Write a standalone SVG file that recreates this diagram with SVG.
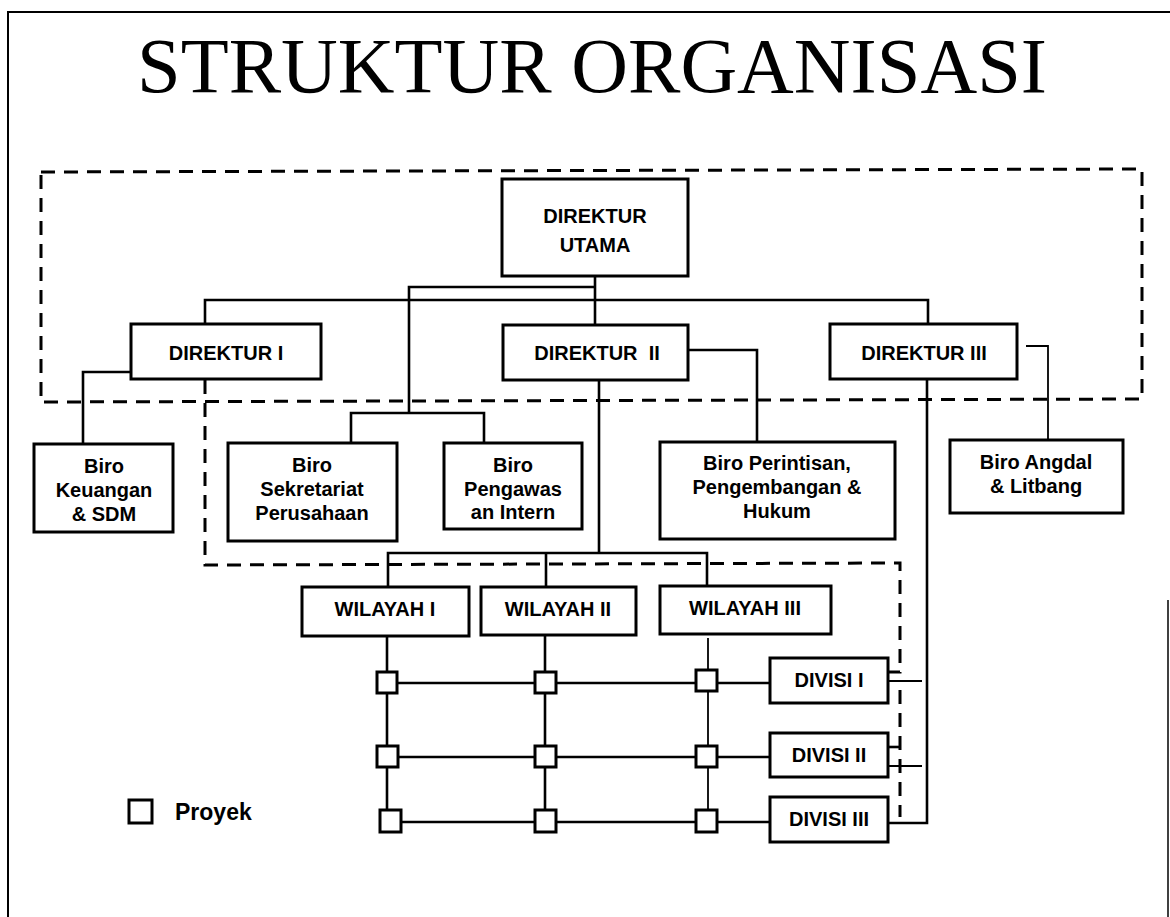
<svg xmlns="http://www.w3.org/2000/svg" width="1170" height="917" viewBox="0 0 1170 917">
<style>
.box{fill:#fff;stroke:#000;stroke-width:3}
.lbl{font-family:"Liberation Sans",Arial,sans-serif;font-weight:bold;font-size:20px;text-anchor:middle;fill:#000}
.ln{fill:none;stroke:#000;stroke-width:2.6}
.thin{fill:none;stroke:#000;stroke-width:1.8}
.dash{fill:none;stroke:#000;stroke-width:3;stroke-dasharray:14 9}
.sq{fill:#fff;stroke:#000;stroke-width:3}
</style>
<rect width="1170" height="917" fill="#fff"/>
<g id="frame">
<path d="M8,917 L8,12 L1170,12" fill="none" stroke="#000" stroke-width="2"/>
<path d="M1168,600 L1168,917" fill="none" stroke="#000" stroke-width="1.5"/>
</g>
<text id="title" x="137" y="92" font-family="'Liberation Serif','Times New Roman',serif" font-size="79" textLength="910" lengthAdjust="spacingAndGlyphs" fill="#000">STRUKTUR ORGANISASI</text>
<g id="regions">
<path class="dash" d="M41,172 L1142,169 L1142,399 L41,402 Z"/>
<path class="dash" d="M205,380 L205,565 L900,563 L900,672 L888,672"/>
<path class="dash" d="M900,690 L900,817"/>
<path class="ln" d="M888,747 L900,747"/>
</g>
<g id="connectors">
<path class="ln" d="M595,276 L595,325"/>
<path class="ln" d="M595,287 L409,287 L409,413"/>
<path class="ln" d="M205,324 L205,300 L928,300 L928,324"/>
<path class="ln" d="M351,443 L351,413 L484,413 L484,443"/>
<path class="ln" d="M131,372 L83,372 L83,444"/>
<path class="ln" d="M688,350 L757,350 L757,442"/>
<path class="ln" d="M599,380 L599,553"/>
<path class="ln" d="M388,587 L388,553 L707,553 L707,586"/>
<path class="ln" d="M546,553 L546,587"/>
<path class="ln" d="M927,379 L927,823 L888,823"/>
<path class="thin" d="M1026,346 L1048,346 L1048,440"/>
<path class="ln" d="M387,636 L387,822"/>
<path class="ln" d="M545,635 L545,822"/>
<path class="thin" d="M708,638 L708,822"/>
<path class="ln" d="M387,683 L770,683"/>
<path class="ln" d="M387,757 L770,757"/>
<path class="ln" d="M390,822 L770,822"/>
<path class="thin" d="M888,681 L922,681"/>
<path class="thin" d="M888,766 L922,766"/>
</g>
<g id="proyek">
<rect class="sq" x="377" y="672" width="20" height="21"/>
<rect class="sq" x="535" y="672" width="21" height="21"/>
<rect class="sq" x="696" y="670" width="21" height="21"/>
<rect class="sq" x="377" y="746" width="21" height="21"/>
<rect class="sq" x="535" y="746" width="21" height="21"/>
<rect class="sq" x="696" y="746" width="21" height="21"/>
<rect class="sq" x="380" y="810" width="21" height="22"/>
<rect class="sq" x="535" y="810" width="21" height="22"/>
<rect class="sq" x="696" y="810" width="21" height="22"/>
</g>
<g id="direktur-utama"><rect class="box" x="502" y="179" width="186" height="97"/><text class="lbl" x="595" y="223" font-size="22">DIREKTUR</text><text class="lbl" x="595" y="252" font-size="22">UTAMA</text></g>
<g id="direktur-1"><rect class="box" x="131" y="324" width="190" height="55"/><text class="lbl" x="226" y="360">DIREKTUR I</text></g>
<g id="direktur-2"><rect class="box" x="503" y="325" width="185" height="55"/><text class="lbl" x="597" y="360" xml:space="preserve">DIREKTUR  II</text></g>
<g id="direktur-3"><rect class="box" x="830" y="324" width="187" height="55"/><text class="lbl" x="924" y="360">DIREKTUR III</text></g>
<g id="biro-keuangan"><rect class="box" x="34" y="444" width="139" height="88"/><text class="lbl" x="104" y="473">Biro</text><text class="lbl" x="104" y="497">Keuangan</text><text class="lbl" x="104" y="521">&amp; SDM</text></g>
<g id="biro-sekretariat"><rect class="box" x="228" y="443" width="169" height="98"/><text class="lbl" x="312" y="472">Biro</text><text class="lbl" x="312" y="496">Sekretariat</text><text class="lbl" x="312" y="520">Perusahaan</text></g>
<g id="biro-pengawas"><rect class="box" x="444" y="443" width="138" height="86"/><text class="lbl" x="513" y="472">Biro</text><text class="lbl" x="513" y="496">Pengawas</text><text class="lbl" x="513" y="519">an Intern</text></g>
<g id="biro-perintisan"><rect class="box" x="660" y="442" width="235" height="97"/><text class="lbl" x="777" y="470">Biro Perintisan,</text><text class="lbl" x="777" y="494">Pengembangan &amp;</text><text class="lbl" x="777" y="518">Hukum</text></g>
<g id="biro-angdal"><rect class="box" x="950" y="440" width="173" height="73"/><text class="lbl" x="1036" y="469">Biro Angdal</text><text class="lbl" x="1036" y="493">&amp; Litbang</text></g>
<g id="wilayah-1"><rect class="box" x="302" y="587" width="167" height="49"/><text class="lbl" x="385" y="616">WILAYAH I</text></g>
<g id="wilayah-2"><rect class="box" x="481" y="587" width="155" height="48"/><text class="lbl" x="558" y="616">WILAYAH II</text></g>
<g id="wilayah-3"><rect class="box" x="660" y="586" width="171" height="48"/><text class="lbl" x="745" y="615">WILAYAH III</text></g>
<g id="divisi-1"><rect class="box" x="770" y="658" width="118" height="45"/><text class="lbl" x="829" y="687">DIVISI I</text></g>
<g id="divisi-2"><rect class="box" x="770" y="733" width="118" height="44"/><text class="lbl" x="829" y="762">DIVISI II</text></g>
<g id="divisi-3"><rect class="box" x="770" y="797" width="118" height="45"/><text class="lbl" x="829" y="826">DIVISI III</text></g>
<g id="legend"><rect class="sq" x="129" y="800" width="23" height="23"/><text x="175" y="820" font-family="'Liberation Sans',Arial,sans-serif" font-weight="bold" font-size="23" fill="#000">Proyek</text></g>
</svg>
